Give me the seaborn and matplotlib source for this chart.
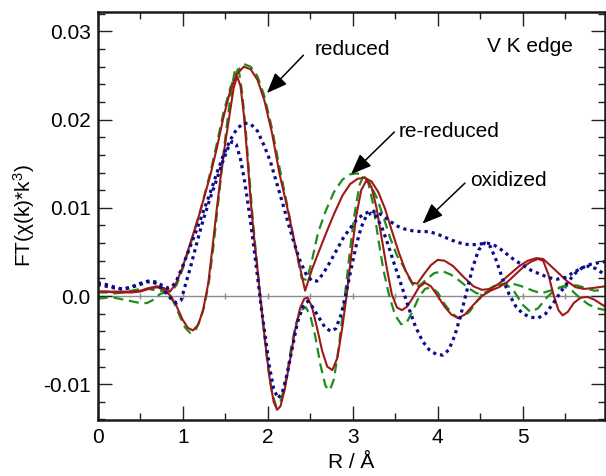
import matplotlib
matplotlib.use('Agg')
import matplotlib.pyplot as plt
import seaborn as sns
from matplotlib.ticker import FixedLocator, MultipleLocator

# (R, FT) pairs: magnitude and imaginary part per sample
reduced_mag = [(0.0, 0.0005), (0.1, 0.0005), (0.2, 0.0005), (0.3, 0.0005), (0.4, 0.0005), (0.5, 0.0006),
               (0.6, 0.0009), (0.7, 0.0011), (0.78, 0.0009), (0.85, 0.0005), (0.92, 0.0014), (1.0, 0.0033),
               (1.09, 0.0060), (1.2, 0.0094), (1.32, 0.0135), (1.4, 0.0167), (1.48, 0.0203), (1.56, 0.0233),
               (1.64, 0.0252), (1.72, 0.0260), (1.8, 0.0257), (1.88, 0.0245), (1.96, 0.0222), (2.05, 0.0185),
               (2.14, 0.0138), (2.24, 0.0096), (2.34, 0.0050), (2.44, 0.0006), (2.52, 0.0030), (2.6, 0.0050),
               (2.69, 0.0072), (2.78, 0.0093), (2.88, 0.0114), (2.97, 0.0127), (3.06, 0.0133), (3.14, 0.0134),
               (3.22, 0.0130), (3.3, 0.0118), (3.38, 0.0099), (3.46, 0.0074), (3.54, 0.0050), (3.62, 0.0029),
               (3.7, 0.0015), (3.76, 0.0014), (3.84, 0.0025), (3.92, 0.0035), (4.0, 0.0041), (4.08, 0.0040),
               (4.18, 0.0034), (4.3, 0.0022), (4.42, 0.0011), (4.52, 0.0007), (4.62, 0.0008), (4.72, 0.0014),
               (4.84, 0.0024), (4.96, 0.0034), (5.06, 0.0040), (5.16, 0.0043), (5.24, 0.0042), (5.32, 0.0035),
               (5.42, 0.0026), (5.52, 0.0017), (5.62, 0.0010), (5.72, 0.0008), (5.82, 0.0009), (5.97, 0.0011)]

reduced_im = [(0.0, 0.0005), (0.1, 0.0005), (0.2, 0.0004), (0.3, 0.0004), (0.4, 0.0004), (0.5, 0.0005),
              (0.6, 0.0008), (0.7, 0.0010), (0.78, 0.0007), (0.86, 0.0000), (0.93, -0.0012), (1.0, -0.0027),
              (1.06, -0.0036), (1.12, -0.0039), (1.18, -0.0033), (1.24, -0.0016), (1.3, 0.0014), (1.35, 0.0055),
              (1.4, 0.0098), (1.45, 0.0138), (1.5, 0.0173), (1.56, 0.0211), (1.6, 0.0236), (1.64, 0.0249),
              (1.68, 0.0238), (1.72, 0.0205), (1.76, 0.0158), (1.8, 0.0108), (1.84, 0.0066), (1.88, 0.0030),
              (1.92, -0.0008), (1.97, -0.0052), (2.02, -0.0092), (2.07, -0.0120), (2.11, -0.0129), (2.15, -0.0125),
              (2.2, -0.0106), (2.26, -0.0074), (2.32, -0.0040), (2.38, -0.0014), (2.43, -0.0003), (2.47, -0.0002),
              (2.52, -0.0012), (2.58, -0.0036), (2.64, -0.0062), (2.7, -0.0080), (2.76, -0.0084), (2.82, -0.0070),
              (2.88, -0.0034), (2.93, 0.0002), (2.98, 0.0044), (3.04, 0.0090), (3.1, 0.0120), (3.16, 0.0131),
              (3.22, 0.0124), (3.28, 0.0100), (3.34, 0.0066), (3.4, 0.0032), (3.46, 0.0002), (3.52, -0.0013),
              (3.58, -0.0016), (3.64, -0.0012), (3.7, -0.0003), (3.78, 0.0010), (3.85, 0.0015), (3.92, 0.0011),
              (4.0, 0.0000), (4.08, -0.0012), (4.16, -0.0021), (4.24, -0.0025), (4.32, -0.0021), (4.42, -0.0010),
              (4.52, 0.0000), (4.62, 0.0006), (4.72, 0.0010), (4.82, 0.0016), (4.92, 0.0025), (5.02, 0.0034),
              (5.1, 0.0039), (5.18, 0.0042), (5.24, 0.0040), (5.3, 0.0025), (5.36, 0.0002), (5.42, -0.0016),
              (5.47, -0.0022), (5.53, -0.0018), (5.6, -0.0008), (5.68, -0.0002), (5.76, -0.0001), (5.84, -0.0004),
              (5.92, -0.0009), (5.97, -0.0012)]

rereduced_mag = [(0.0, 0.0004), (0.1, 0.0004), (0.2, 0.0003), (0.3, 0.0004), (0.4, 0.0006), (0.5, 0.0008),
                 (0.6, 0.0008), (0.7, 0.0006), (0.8, 0.0005), (0.87, 0.0005), (0.93, 0.0013), (1.0, 0.0031),
                 (1.09, 0.0058), (1.2, 0.0094), (1.32, 0.0138), (1.4, 0.0172), (1.48, 0.0208), (1.56, 0.0236),
                 (1.64, 0.0255), (1.72, 0.0263), (1.8, 0.0260), (1.88, 0.0249), (1.96, 0.0227), (2.05, 0.0190),
                 (2.14, 0.0145), (2.24, 0.0098), (2.32, 0.0058), (2.4, 0.0020), (2.46, 0.0018), (2.52, 0.0040),
                 (2.59, 0.0071), (2.68, 0.0096), (2.78, 0.0118), (2.88, 0.0132), (2.97, 0.0138), (3.05, 0.0139),
                 (3.12, 0.0137), (3.2, 0.0128), (3.28, 0.0112), (3.36, 0.0090), (3.44, 0.0066), (3.52, 0.0046),
                 (3.6, 0.0033), (3.67, 0.0019), (3.73, 0.0009), (3.8, 0.0013), (3.88, 0.0020), (3.96, 0.0026),
                 (4.06, 0.0028), (4.16, 0.0024), (4.26, 0.0017), (4.36, 0.0009), (4.46, 0.0003), (4.54, 0.0003),
                 (4.62, 0.0007), (4.72, 0.0012), (4.82, 0.0015), (4.92, 0.0013), (5.02, 0.0010), (5.12, 0.0006),
                 (5.22, 0.0003), (5.32, 0.0006), (5.44, 0.0010), (5.54, 0.0012), (5.64, 0.0012), (5.74, 0.0009),
                 (5.84, 0.0006), (5.97, 0.0007)]

rereduced_im = [(0.0, -0.0003), (0.1, -0.0002), (0.2, -0.0002), (0.3, -0.0004), (0.4, -0.0006), (0.5, -0.0008),
                (0.58, -0.0008), (0.66, -0.0004), (0.73, 0.0002), (0.79, 0.0004), (0.85, 0.0001), (0.91, -0.0010),
                (0.97, -0.0024), (1.03, -0.0036), (1.09, -0.0042), (1.15, -0.0039), (1.21, -0.0026), (1.26, -0.0009),
                (1.31, 0.0017), (1.36, 0.0055), (1.42, 0.0108), (1.48, 0.0162), (1.54, 0.0210), (1.58, 0.0238),
                (1.62, 0.0259), (1.66, 0.0256), (1.7, 0.0230), (1.74, 0.0190), (1.78, 0.0140), (1.82, 0.0092),
                (1.86, 0.0050), (1.9, 0.0012), (1.95, -0.0035), (2.0, -0.0078), (2.05, -0.0110), (2.1, -0.0125),
                (2.15, -0.0120), (2.21, -0.0098), (2.27, -0.0062), (2.33, -0.0032), (2.39, -0.0016), (2.45, -0.0013),
                (2.5, -0.0022), (2.56, -0.0046), (2.62, -0.0078), (2.68, -0.0102), (2.73, -0.0107), (2.78, -0.0094),
                (2.84, -0.0055), (2.9, -0.0006), (2.96, 0.0045), (3.02, 0.0092), (3.08, 0.0126), (3.13, 0.0137),
                (3.18, 0.0130), (3.24, 0.0104), (3.3, 0.0065), (3.36, 0.0030), (3.43, 0.0000), (3.5, -0.0022),
                (3.57, -0.0032), (3.63, -0.0031), (3.7, -0.0018), (3.78, -0.0001), (3.85, 0.0008), (3.92, 0.0010),
                (4.0, 0.0004), (4.08, -0.0009), (4.16, -0.0019), (4.24, -0.0025), (4.3, -0.0024), (4.38, -0.0017),
                (4.46, -0.0006), (4.54, 0.0003), (4.62, 0.0009), (4.7, 0.0013), (4.8, 0.0014), (4.9, 0.0005),
                (5.0, -0.0010), (5.09, -0.0018), (5.18, -0.0014), (5.28, -0.0002), (5.38, 0.0007), (5.48, 0.0011),
                (5.58, 0.0006), (5.68, -0.0003), (5.78, -0.0010), (5.88, -0.0014), (5.97, -0.0016)]

oxidized_mag = [(0.0, 0.0015), (0.1, 0.0013), (0.2, 0.0010), (0.28, 0.0008), (0.36, 0.0009), (0.44, 0.0012),
                (0.52, 0.0015), (0.6, 0.0017), (0.68, 0.0016), (0.76, 0.0012), (0.83, 0.0009), (0.88, 0.0011),
                (0.93, 0.0018), (1.0, 0.0034), (1.08, 0.0054), (1.16, 0.0074), (1.24, 0.0095), (1.32, 0.0116),
                (1.4, 0.0139), (1.48, 0.0160), (1.56, 0.0177), (1.64, 0.0190), (1.72, 0.0196), (1.8, 0.0195),
                (1.88, 0.0187), (1.96, 0.0170), (2.03, 0.0153), (2.1, 0.0130), (2.17, 0.0107), (2.24, 0.0083),
                (2.31, 0.0060), (2.38, 0.0040), (2.45, 0.0025), (2.52, 0.0017), (2.58, 0.0017), (2.65, 0.0025),
                (2.73, 0.0038), (2.81, 0.0052), (2.89, 0.0066), (2.97, 0.0077), (3.05, 0.0087), (3.13, 0.0093),
                (3.21, 0.0096), (3.29, 0.0095), (3.37, 0.0090), (3.45, 0.0084), (3.53, 0.0079), (3.61, 0.0076),
                (3.7, 0.0074), (3.8, 0.0073), (3.9, 0.0073), (4.0, 0.0070), (4.1, 0.0066), (4.2, 0.0062),
                (4.3, 0.0059), (4.4, 0.0058), (4.5, 0.0059), (4.58, 0.0060), (4.66, 0.0058), (4.74, 0.0053),
                (4.82, 0.0047), (4.9, 0.0041), (5.0, 0.0035), (5.1, 0.0029), (5.2, 0.0025), (5.3, 0.0021),
                (5.4, 0.0019), (5.5, 0.0021), (5.6, 0.0027), (5.7, 0.0032), (5.8, 0.0036), (5.9, 0.0038),
                (5.97, 0.0039)]

oxidized_im = [(0.0, 0.0013), (0.1, 0.0011), (0.2, 0.0009), (0.3, 0.0008), (0.4, 0.0010), (0.5, 0.0013),
               (0.58, 0.0016), (0.65, 0.0016), (0.72, 0.0012), (0.8, 0.0004), (0.87, -0.0004), (0.93, -0.0008),
               (0.98, -0.0005), (1.03, 0.0012), (1.09, 0.0032), (1.16, 0.0058), (1.24, 0.0086), (1.32, 0.0110),
               (1.4, 0.0132), (1.47, 0.0152), (1.53, 0.0167), (1.58, 0.0175), (1.63, 0.0172), (1.68, 0.0155),
               (1.72, 0.0135), (1.76, 0.0110), (1.8, 0.0083), (1.84, 0.0053), (1.88, 0.0022), (1.92, -0.0010),
               (1.97, -0.0045), (2.02, -0.0080), (2.07, -0.0105), (2.12, -0.0116), (2.17, -0.0110), (2.23, -0.0088),
               (2.29, -0.0058), (2.35, -0.0030), (2.41, -0.0013), (2.47, -0.0006), (2.53, -0.0013), (2.6, -0.0024),
               (2.67, -0.0035), (2.74, -0.0040), (2.8, -0.0037), (2.86, -0.0022), (2.92, 0.0002), (2.98, 0.0030),
               (3.04, 0.0057), (3.1, 0.0078), (3.16, 0.0091), (3.22, 0.0094), (3.28, 0.0090), (3.35, 0.0076),
               (3.42, 0.0057), (3.5, 0.0033), (3.58, 0.0010), (3.66, -0.0014), (3.74, -0.0035), (3.82, -0.0051),
               (3.9, -0.0061), (3.98, -0.0066), (4.06, -0.0067), (4.13, -0.0061), (4.2, -0.0045), (4.27, -0.0022),
               (4.34, 0.0005), (4.41, 0.0032), (4.48, 0.0052), (4.55, 0.0060), (4.62, 0.0056), (4.69, 0.0040),
               (4.76, 0.0020), (4.84, 0.0002), (4.92, -0.0012), (5.0, -0.0020), (5.09, -0.0024), (5.18, -0.0025),
               (5.27, -0.0020), (5.36, -0.0008), (5.45, 0.0005), (5.54, 0.0017), (5.62, 0.0026), (5.7, 0.0032),
               (5.78, 0.0034), (5.86, 0.0031), (5.97, 0.0024)]

x_ticks = [0, 1, 2, 3, 4, 5]
x_tick_labels = ['0', '1', '2', '3', '4', '5']
y_ticks = [-0.01, 0.0, 0.01, 0.02, 0.03]
y_tick_labels = ['-0.01', '0.0', '0.01', '0.02', '0.03']

sns.set_style('ticks')
plt.rcParams['font.family'] = ['Liberation Sans', 'DejaVu Sans']
plt.rcParams['mathtext.fontset'] = 'custom'
plt.rcParams['mathtext.rm'] = 'Liberation Sans'
plt.rcParams['mathtext.it'] = 'Liberation Sans:italic'
plt.rcParams['text.color'] = 'black'
plt.rcParams['axes.labelcolor'] = 'black'
plt.rcParams['xtick.color'] = 'black'
plt.rcParams['ytick.color'] = 'black'

red = '#a01818'
green = '#1e8c1e'
blue = '#0c0c8c'

fig = plt.figure(figsize=(6.06, 4.76), dpi=100)
ax = fig.add_axes([0.1612, 0.1176, 0.8372, 0.8572])

ylo, yhi = -0.01406, 0.0322
xlo, xhi = 0.0, 5.968

# gray zero line with its own small ticks
zero_axis = ax.secondary_xaxis((0 - ylo) / (yhi - ylo))
zero_axis.set_xticks([0.5 * i for i in range(1, 12)])
zero_axis.tick_params(axis='x', direction='inout', length=5, width=1, color='#8c8c8c',
                      labelbottom=False, labeltop=False)
for s in zero_axis.spines.values():
    s.set_color('#8c8c8c')
    s.set_linewidth(1.0)

curves = [
    (rereduced_mag, green, (0, (4.5, 2.6)), 1.6),
    (rereduced_im, green, (0, (4.5, 2.6)), 1.6),
    (reduced_mag, red, '-', 1.5),
    (reduced_im, red, '-', 1.5),
    (oxidized_mag, blue, (0, (1, 1.25)), 2.3),
    (oxidized_im, blue, (0, (1, 1.25)), 2.3),
]
for pts, col, ls, lw in curves:
    r, ft = zip(*pts)
    sns.lineplot(x=list(r), y=list(ft), ax=ax, color=col, linestyle=ls, linewidth=lw)

ax.set_xlim(xlo, xhi)
ax.set_ylim(ylo, yhi)
ax.xaxis.set_major_locator(FixedLocator(x_ticks))
ax.set_xticklabels(x_tick_labels)
ax.xaxis.set_minor_locator(MultipleLocator(0.5))
ax.yaxis.set_major_locator(FixedLocator(y_ticks))
ax.set_yticklabels(y_tick_labels)
ax.yaxis.set_minor_locator(MultipleLocator(0.002))

ax.tick_params(which='both', direction='in', top=True, right=True, width=1.0, color='#222222',
               labelsize=15, labelcolor='black')
ax.tick_params(which='major', length=10)
ax.tick_params(which='minor', length=5)
ax.tick_params(axis='x', pad=6)
ax.tick_params(axis='y', pad=5)
for s in ax.spines.values():
    s.set_linewidth(1.8)
    s.set_color('#1a1a1a')

ax.set_xlabel('R / Å', fontsize=15, labelpad=4, color='black')
ax.set_ylabel('FT(χ(k)*k$^{3}$)', fontsize=15, labelpad=4, color='black')

arrow = dict(arrowstyle='-|>,head_length=0.7,head_width=0.28', color='black', lw=1.1,
             mutation_scale=18, shrinkA=0, shrinkB=0)
ax.annotate('', xy=(1.99, 0.0230), xytext=(2.42, 0.0273), arrowprops=arrow)
ax.annotate('', xy=(2.98, 0.0138), xytext=(3.49, 0.0186), arrowprops=arrow)
ax.annotate('', xy=(3.82, 0.0082), xytext=(4.32, 0.0128), arrowprops=arrow)

ax.text(2.556, 0.0273, 'reduced', fontsize=15, va='baseline', ha='left', color='black')
ax.text(4.576, 0.02763, 'V K edge', fontsize=15, va='baseline', ha='left', color='black')
ax.text(3.545, 0.01806, 're-reduced', fontsize=15, va='baseline', ha='left', color='black')
ax.text(4.38, 0.01247, 'oxidized', fontsize=15, va='baseline', ha='left', color='black')

fig.savefig('out.png', dpi=100)
